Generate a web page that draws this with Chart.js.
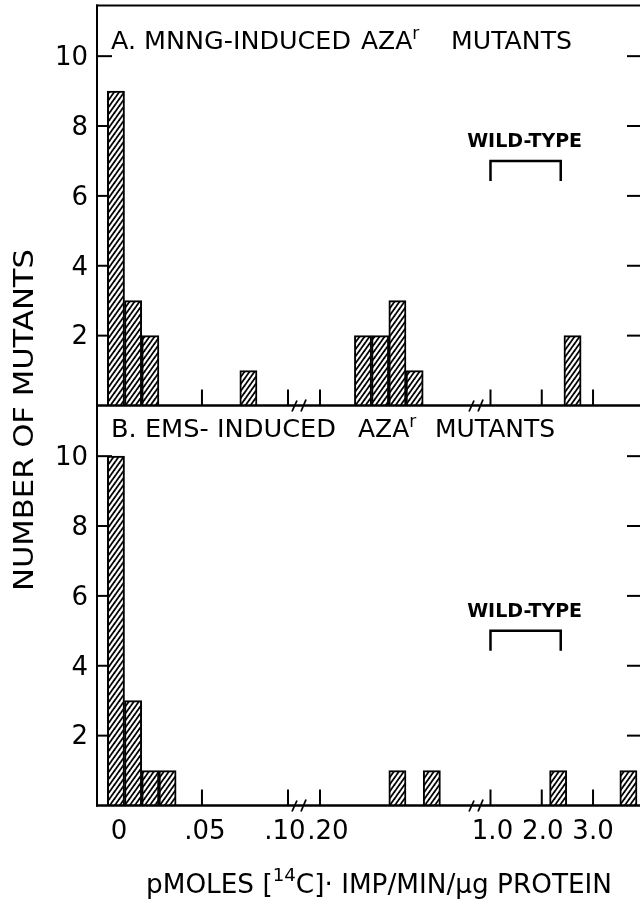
<!DOCTYPE html>
<html><head><meta charset="utf-8">
<script src="https://cdn.jsdelivr.net/npm/chart.js@4.4.0/dist/chart.umd.min.js"></script>
<style>
html,body{margin:0;padding:0;background:#fff;width:640px;height:905px;overflow:hidden;position:relative;}
canvas{position:absolute;left:0;top:0;}
</style></head><body>
<canvas id="cA" width="660" height="905"></canvas>
<canvas id="cB" width="660" height="905"></canvas>
<script>
// ---------- data ----------
const mnngActivity = [0, 0.01, 0.02, 0.077, 0.225, 0.235, 0.245, 0.255, 2.6];
const mnngCounts   = [9, 3, 2, 1, 2, 2, 3, 1, 2];
const emsActivity  = [0, 0.01, 0.02, 0.03, 0.245, 0.265, 2.32, 3.69];
const emsCounts    = [10, 3, 1, 1, 1, 1, 1, 1];
const xTickValues  = [0, 0.05, 0.10, 0.20, 1.0, 2.0, 3.0];
const xTickLabels  = ['0', '.05', '.10', '.20', '1.0', '2.0', '3.0'];
const yTickValues  = [2, 4, 6, 8, 10];
const yTickLabels  = ['2', '4', '6', '8', '10'];
const wildTypeRange = [1.0, 2.37];
const wildTypeLevel = [7, 5];           // panel A, panel B
const panelTitles = [
  ['A. MNNG-INDUCED', 'AZA', 'r', 'MUTANTS'],
  ['B. EMS- INDUCED', 'AZA', 'r', 'MUTANTS']
];
const yAxisTitle = 'NUMBER OF MUTANTS';
const xAxisTitle = ['pMOLES [', '14', 'C]', '\u00B7', ' IMP/MIN/\u00B5g PROTEIN'];

// broken axis: three segments mapped onto one linear scale (1 unit = one 0.01 bin)
function toAxis(v) {
  if (v < 0.15) return v / 0.01;
  if (v < 0.6) return 11.86 + (v - 0.20) / 0.01;
  return 21.77 + (v - 1.0) * 2.98;
}
const breakMarks = [10.64, 20.93];

// ---------- hatch pattern ----------
function makeHatch() {
  const pc = document.createElement('canvas');
  pc.width = 5; pc.height = 7;
  const p = pc.getContext('2d');
  p.fillStyle = '#fff'; p.fillRect(0, 0, 5, 7);
  p.strokeStyle = '#000'; p.lineWidth = 1.8;
  for (const dx of [-5, 0, 5]) {
    p.beginPath(); p.moveTo(dx - 1, 8.4); p.lineTo(dx + 6, -1.4); p.stroke();
  }
  return p.createPattern(pc, 'repeat');
}
const hatch = makeHatch();

const FONT = '"DejaVu Sans", sans-serif';

function drawPieces(ctx, pieces, x, y, targetW, align) {
  let w = 0;
  pieces.forEach(p => { ctx.font = p.font; p.w = ctx.measureText(p.t).width; w += p.w; });
  const sx = targetW ? targetW / w : 1;
  ctx.save();
  ctx.translate(align === 'center' ? x - (w * sx) / 2 : x, y);
  ctx.scale(sx, 1);
  ctx.textAlign = 'left'; ctx.textBaseline = 'alphabetic';
  let cx = 0;
  pieces.forEach(p => { ctx.font = p.font; ctx.fillText(p.t, cx, p.dy || 0); cx += p.w; });
  ctx.restore();
}

const decor = {
  id: 'decor',
  beforeDatasetsDraw(chart, args, o) {
    const {ctx, chartArea: a, scales: {x, y}} = chart;
    ctx.save();
    ctx.strokeStyle = '#000'; ctx.lineWidth = 2; ctx.lineCap = 'butt';
    const ln = (x1, y1, x2, y2) => { ctx.beginPath(); ctx.moveTo(x1, y1); ctx.lineTo(x2, y2); ctx.stroke(); };
    xTickValues.forEach(v => { const px = x.getPixelForValue(toAxis(v)); ln(px, a.bottom, px, a.bottom - 16); });
    yTickValues.forEach(v => {
      const py = y.getPixelForValue(v);
      ln(a.left, py, a.left + 15, py);
      ln(a.right, py, a.right - 18, py);
    });
    ctx.restore();
  },
  afterDatasetsDraw(chart, args, o) {
    const {ctx, chartArea: a, scales: {x, y}} = chart;
    const ln = (x1, y1, x2, y2) => { ctx.beginPath(); ctx.moveTo(x1, y1); ctx.lineTo(x2, y2); ctx.stroke(); };
    ctx.save();
    ctx.strokeStyle = '#000'; ctx.fillStyle = '#000';
    // frame
    ctx.lineWidth = 2;
    ln(a.left, a.top - (o.panel === 0 ? 1 : 0), a.left, a.bottom + 1);
    if (o.panel === 0) ln(a.left - 1, a.top, a.right, a.top);
    ctx.lineWidth = 2.5;
    ln(a.left - 1, a.bottom, a.right, a.bottom);
    // axis breaks
    ctx.lineWidth = 1.8;
    breakMarks.forEach(u => {
      const px = x.getPixelForValue(u);
      ln(px - 7, a.bottom + 6, px - 2, a.bottom - 5);
      ln(px + 2, a.bottom + 6, px + 7, a.bottom - 6);
    });
    // y tick labels
    ctx.font = '26px ' + FONT;
    ctx.textAlign = 'right'; ctx.textBaseline = 'middle';
    yTickValues.forEach((v, i) => ctx.fillText(yTickLabels[i], a.left - 9, y.getPixelForValue(v) + 2));
    // x tick labels (lower panel only)
    if (o.panel === 1) {
      const shift = [3, 3, -3, 8, 2, 1, 0];
      ctx.textAlign = 'center'; ctx.textBaseline = 'alphabetic';
      xTickValues.forEach((v, i) => ctx.fillText(xTickLabels[i], x.getPixelForValue(toAxis(v)) + shift[i], a.bottom + 33));
    }
    // panel title
    const t = panelTitles[o.panel];
    const tf = '25px ' + FONT, sf = '17px ' + FONT;
    const base = a.top + (o.panel === 0 ? 43 : 31);
    const pos = o.panel === 0 ? [[111, 240], [361, 47], [451, 121]] : [[111, 225], [358, 49], [435, 120]];
    drawPieces(ctx, [{t: t[0], font: tf}], pos[0][0], base, pos[0][1]);
    drawPieces(ctx, [{t: t[1], font: tf}, {t: t[2], font: sf, dy: -10}], pos[1][0], base, 0);
    drawPieces(ctx, [{t: t[3], font: tf}], pos[2][0], base, pos[2][1]);
    // wild-type bracket
    const bx1 = x.getPixelForValue(toAxis(wildTypeRange[0]));
    const bx2 = x.getPixelForValue(toAxis(wildTypeRange[1]));
    const by = y.getPixelForValue(wildTypeLevel[o.panel]);
    ctx.lineWidth = 2.5;
    ctx.beginPath(); ctx.moveTo(bx1, by + 20); ctx.lineTo(bx1, by); ctx.lineTo(bx2, by); ctx.lineTo(bx2, by + 20); ctx.stroke();
    ctx.font = 'bold 19px ' + FONT;
    ctx.textAlign = 'center'; ctx.textBaseline = 'alphabetic';
    ctx.fillText('WILD-TYPE', (bx1 + bx2) / 2 - 1, by - 14);
    // axis titles (drawn once, with lower panel)
    if (o.panel === 1) {
      ctx.save();
      ctx.translate(33, 420); ctx.rotate(-Math.PI / 2);
      drawPieces(ctx, [{t: yAxisTitle, font: '26px ' + FONT}], 0, 0, 342, 'center');
      ctx.restore();
      const mf = '26px ' + FONT;
      drawPieces(ctx, [
        {t: xAxisTitle[0], font: mf}, {t: xAxisTitle[1], font: '18px ' + FONT, dy: -12},
        {t: xAxisTitle[2], font: mf}, {t: xAxisTitle[3], font: mf}, {t: xAxisTitle[4], font: mf}
      ], 379, 893, 466, 'center');
    }
    ctx.restore();
  }
};

function makePanel(id, panel, xs, ys, padTop, padBottom) {
  return new Chart(document.getElementById(id), {
    type: 'bar',
    data: {
      datasets: [{
        data: xs.map((v, i) => ({x: toAxis(v), y: ys[i]})),
        backgroundColor: hatch,
        borderColor: '#000',
        borderWidth: 2,
        borderSkipped: 'start',
        barPercentage: 1,
        categoryPercentage: 1
      }]
    },
    options: {
      responsive: false, animation: false, devicePixelRatio: 1,
      layout: {padding: {left: 97, right: 15, top: padTop, bottom: padBottom}},
      plugins: {legend: {display: false}, tooltip: {enabled: false}, decor: {panel: panel}},
      scales: {
        x: {type: 'linear', min: -1.1, max: 30.75, offset: false, display: false},
        y: {min: 0, max: 11.45, display: false}
      }
    },
    plugins: [decor]
  });
}

makePanel('cA', 0, mnngActivity, mnngCounts, 5.5, 905 - 405.5);
makePanel('cB', 1, emsActivity, emsCounts, 405.5, 905 - 805.5);
</script>
</body></html>
